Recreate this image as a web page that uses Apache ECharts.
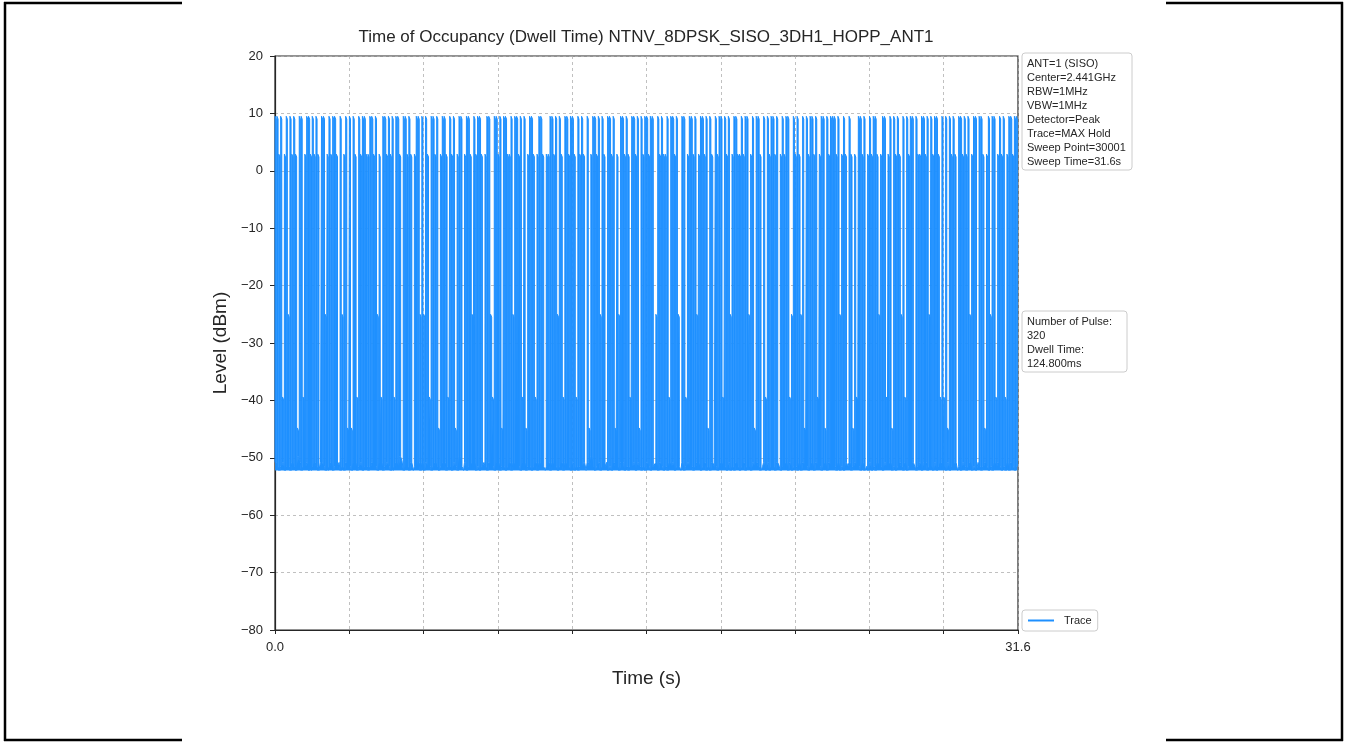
<!DOCTYPE html>
<html>
<head>
<meta charset="utf-8">
<script src="https://cdn.jsdelivr.net/npm/echarts@6/dist/echarts.min.js"></script>
<style>
html,body{margin:0;padding:0;background:#fff;}
#chart{width:1345px;height:742px;}
</style>
</head>
<body>
<div id="chart"></div>
<script>
// ---- data ----
const chartTitle = 'Time of Occupancy (Dwell Time) NTNV_8DPSK_SISO_3DH1_HOPP_ANT1';
const sweepTime = 31.6;               // s
const yMin = -80, yMax = 20, yStep = 10;
const xTickLabels = ['0.0', '31.6'];
const infoLines = ['ANT=1 (SISO)', 'Center=2.441GHz', 'RBW=1MHz', 'VBW=1MHz', 'Detector=Peak', 'Trace=MAX Hold', 'Sweep Point=30001', 'Sweep Time=31.6s'];
const resultLines = ['Number of Pulse:', '320', 'Dwell Time:', '124.800ms'];
const seriesName = 'Trace';

// level at the start and end of the pulse top, for each pulse class
const peakLevels = { A: [9.5, 9.0], B: [2.9, 2.4], C: [-25.0, -25.5], D: [-39.4, -39.9], E: [-44.8, -45.3] };
// pulse class of each time slot along the sweep ('.' = noise only)
const peakCodes = [
  'AABADBACAB','ABEAADBAAB','ABAB.AACBA','BAAB.ACBAE','AEABDABAAB',
  'BAABACBDAA','BABADAAB.A','ABAB.BAACA','CABDAABAEB','AABDABAEBA',
  'A.BAABCABA','AB.BAACDAA','BAEAABBACA','ABADAEBAAB','DBAAB.BBAA',
  'BACABDAABA','ABDABAB.AE','BAABACAB.A','ABAEBCAABA','BDAABAEABA',
  'ABAA.CABAB','BADAABAC.A','ADBAABACBA','ABAEAB.ABA','ADABACBAAB',
  'BABAACBAEA','AB.ADABAAB','A.BABAADCA','BABCAEABAA','BADBAAEABA',
  'AABACBAB.A','BEBDAABA.B','ABAABCBAAD','BAEABABCAD','ABAA.ABBAA',
  'BACABAABDA','DAEABAB.AA','BABACBAA.A','ABEBACAADB','ABADBAABAA'
].join('');
// noise floor of each slot
const floorLevels = { '0': -47.8, '1': -48.8, '2': -49.8, '3': -50.8, '4': -51.5, '5': -52.2 };
const floorCodes = [
  '3454354453','4523544355','4345334554','3544354534','4533543544',
  '5434453354','3455434235','4453544353','5344543454','3354453452',
  '4535443354','5434534453','3544543534','4453354454','3534454353',
  '4454353445','3545443534','2454354435','4534453354','5443534545',
  '3454435345','4534354453','5434454335','4354534454','3445354534',
  '5435445343','4543535445','3454435354','4535344543','5344543534',
  '4453545343','5434453545','3545344534','4354543453','5443454353',
  '3544535434','4535443545','3454354534','5434545343','4545353454'
].join('');
const floorBase = -52.2;   // lowest level reached by the noise floor

// ---- build trace ----
const slot = sweepTime / peakCodes.length;
const trace = [];
for (let i = 0; i < peakCodes.length; i++) {
  const t = i * slot;
  const f = floorLevels[floorCodes[i]];
  const c = peakCodes[i];
  if (c === '.') {
    trace.push([t + 0.5 * slot, f]);
  } else {
    const p = peakLevels[c];
    trace.push([t + 0.03 * slot, f], [t + 0.05 * slot, p[0]], [t + 0.65 * slot, p[1]], [t + 0.67 * slot, f]);
  }
}

const FONT = '"Liberation Sans", Arial, sans-serif';
const TXT = '#262626';
const BLUE = '#1e90ff';
const minus = v => String(v).replace('-', '\u2212');

const chart = echarts.init(document.getElementById('chart'), null, { renderer: 'canvas' });

function boxGroup(x, y, w, h, lines) {
  return {
    type: 'group', x: x, y: y,
    children: [
      { type: 'rect', shape: { x: 0, y: 0, width: w, height: h, r: 3 },
        style: { fill: 'rgba(255,255,255,0.8)', stroke: '#cccccc', lineWidth: 1 } },
      { type: 'text', x: 5, y: 4,
        style: { text: lines.join('\n'), font: '11px ' + FONT, fill: TXT, lineHeight: 14 } }
    ]
  };
}

const option = {
  animation: false,
  backgroundColor: '#ffffff',
  title: {
    text: chartTitle, left: 646, top: 29, textAlign: 'center', padding: 0,
    textStyle: { fontFamily: FONT, fontSize: 17, fontWeight: 'normal', color: TXT }
  },
  grid: { left: 275, right: 327, top: 56, bottom: 112, show: true, borderColor: '#262626', borderWidth: 1.2, containLabel: false },
  xAxis: {
    type: 'value', min: 0, max: sweepTime, interval: sweepTime / 10,
    name: 'Time (s)', nameLocation: 'middle', nameGap: 39,
    nameTextStyle: { fontFamily: FONT, fontSize: 19, color: TXT },
    axisLine: { show: true, onZero: false, lineStyle: { color: '#262626', width: 1.2 } },
    axisTick: { show: true, length: 4, lineStyle: { color: '#262626' } },
    axisLabel: {
      margin: 11, fontFamily: FONT, fontSize: 13, color: TXT, showMinLabel: true, showMaxLabel: true,
      formatter: v => (Math.abs(v) < 1e-6 ? xTickLabels[0] : (Math.abs(v - sweepTime) < 1e-6 ? xTickLabels[1] : ''))
    },
    splitLine: { show: true, lineStyle: { color: '#b0b0b0', type: [3, 3], width: 0.8 } }
  },
  yAxis: {
    type: 'value', min: yMin, max: yMax, interval: yStep,
    name: 'Level (dBm)', nameLocation: 'middle', nameGap: 45,
    nameTextStyle: { fontFamily: FONT, fontSize: 19, color: TXT },
    axisLine: { show: true, onZero: false, lineStyle: { color: '#262626', width: 1.2 } },
    axisTick: { show: true, length: 5, lineStyle: { color: '#262626' } },
    axisLabel: { margin: 12, fontFamily: FONT, fontSize: 13, color: TXT, formatter: v => minus(v) },
    splitLine: { show: true, lineStyle: { color: '#b0b0b0', type: [3, 3], width: 0.8 } }
  },
  legend: {
    data: [{ name: seriesName, icon: 'rect' }], left: 1022, top: 610, orient: 'vertical',
    itemWidth: 26, itemHeight: 2, itemGap: 4, padding: [5, 6, 5, 6],
    borderColor: '#cccccc', borderWidth: 1, borderRadius: 3, backgroundColor: 'rgba(255,255,255,0.8)',
    itemStyle: { color: BLUE },
    textStyle: { fontFamily: FONT, fontSize: 11, color: TXT, padding: [0, 0, 0, 5] }
  },
  graphic: [
    boxGroup(1022, 53, 110, 117, infoLines),
    boxGroup(1022, 311, 105, 61, resultLines),
    { type: 'line', shape: { x1: 4, y1: 3, x2: 182, y2: 3 }, style: { stroke: '#000', lineWidth: 2.5 } },
    { type: 'line', shape: { x1: 1166, y1: 3, x2: 1343, y2: 3 }, style: { stroke: '#000', lineWidth: 2.5 } },
    { type: 'line', shape: { x1: 4, y1: 740, x2: 182, y2: 740 }, style: { stroke: '#000', lineWidth: 2.5 } },
    { type: 'line', shape: { x1: 1166, y1: 740, x2: 1343, y2: 740 }, style: { stroke: '#000', lineWidth: 2.5 } },
    { type: 'line', shape: { x1: 5, y1: 2, x2: 5, y2: 741 }, style: { stroke: '#000', lineWidth: 2.5 } },
    { type: 'line', shape: { x1: 1342, y1: 2, x2: 1342, y2: 741 }, style: { stroke: '#000', lineWidth: 2.5 } }
  ],
  series: [{
    name: seriesName, type: 'line', data: trace, showSymbol: false, symbol: 'none',
    sampling: null, clip: true, lineStyle: { color: BLUE, width: 1 }, itemStyle: { color: BLUE },
    areaStyle: { origin: floorBase, color: BLUE, opacity: 1 },
    emphasis: { disabled: true }
  }]
};
chart.setOption(option);
</script>
</body>
</html>
